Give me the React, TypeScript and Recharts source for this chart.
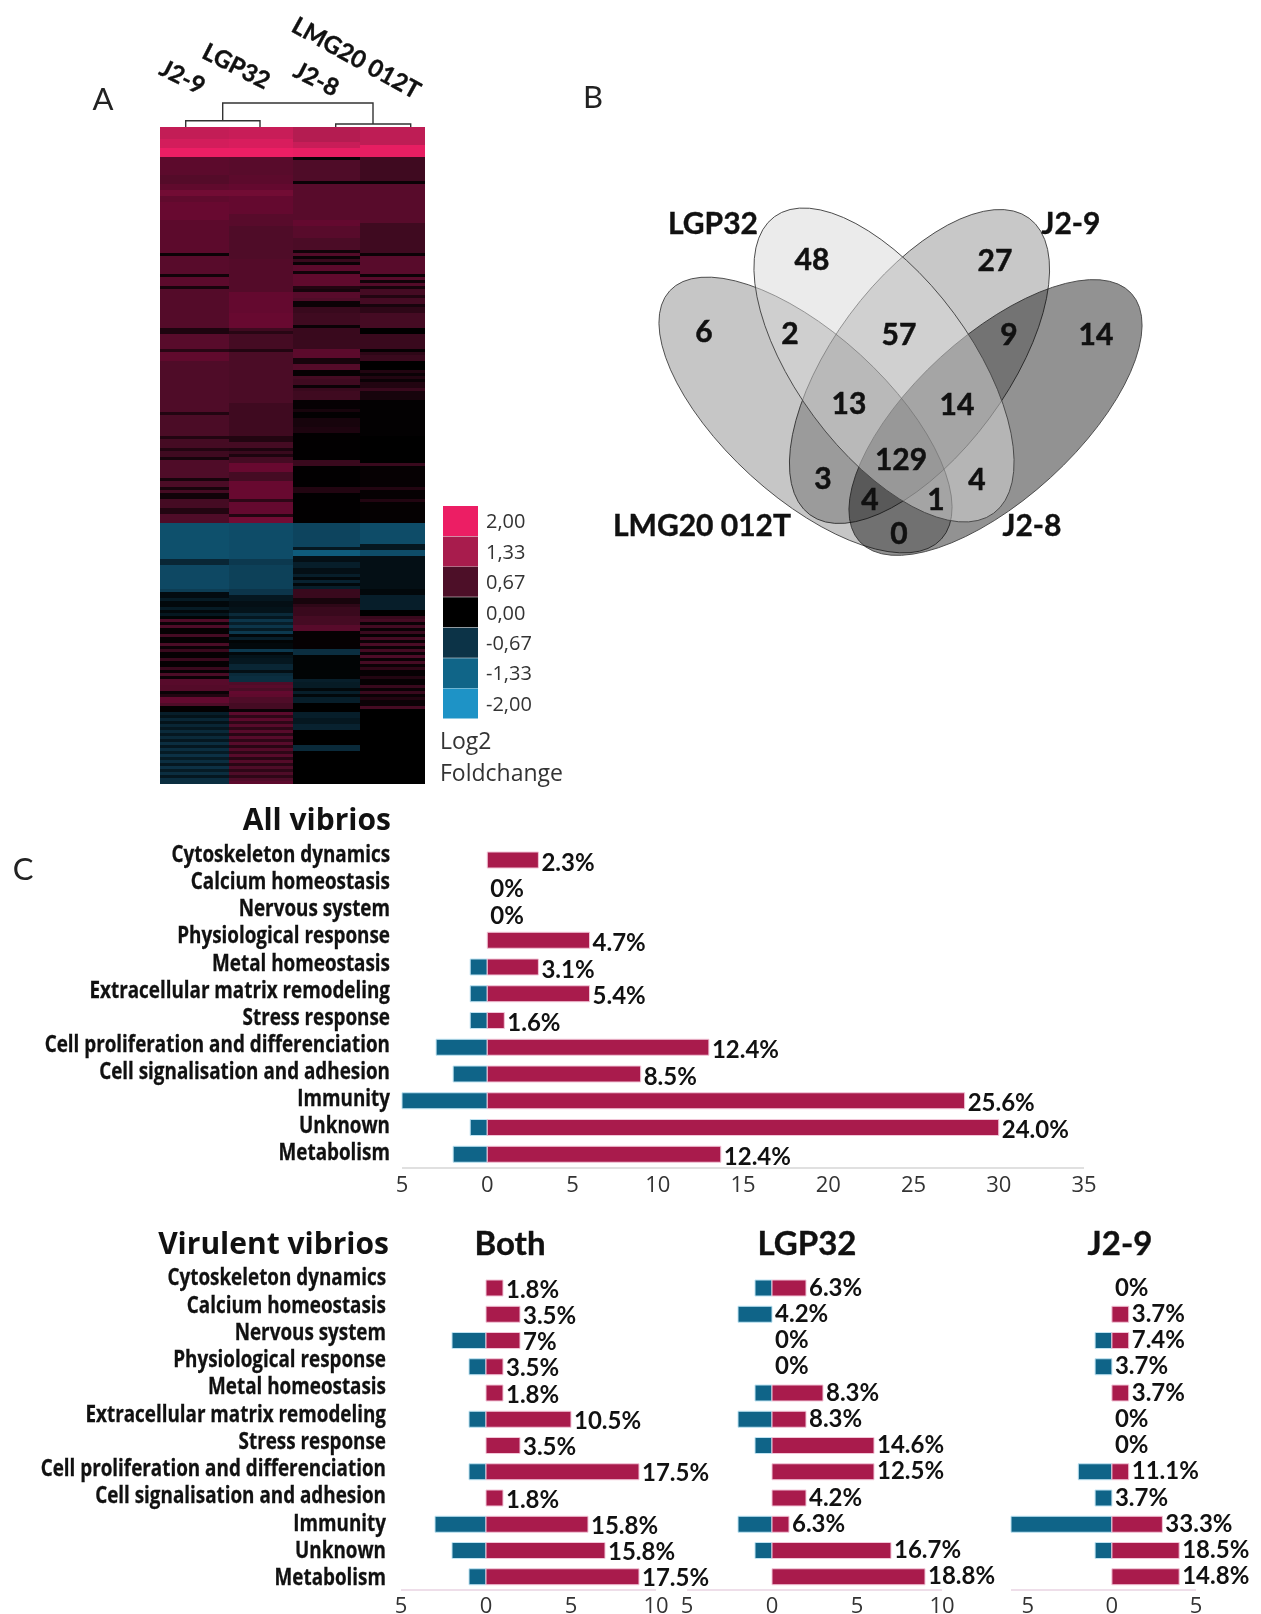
import {
  BarChart, Bar, Cell, XAxis, YAxis, LabelList, ScatterChart, Scatter,
} from 'recharts';

const RED = '#a91b4c';
const BLUE = '#0f6488';
const SANS = '"Open Sans", sans-serif';
const LATO = 'Lato, sans-serif';

// panel A: log2 fold change per gene row, written as [until row, value] runs
const J29_RUNS = [[4,1.6],[7,1.75],[10,2],[16,.85],[19,.75],[21,.9],[23,1.05],[25,.9],[31,1],[42,.85],[43,.1],[49,.8],[50,.15],[53,.85],[54,.2],[67,.75],[69,.25],[74,.8],[75,.35],[78,.9],[95,.7],[96,.3],[103,.65],[104,.3],[107,.6],[108,.3],[110,.55],[111,.2],[117,.7],[118,.2],[120,.65],[121,.2],[122,.6],[124,.15],[127,.6],[129,.3],[132,.7],[144,-1.05],[146,-.5],[154,-.95],[155,-.8],[157,-.15],[158,-.35],[160,-.1],[161,-.35],[162,-.1],[163,-.3],[164,-.05],[165,.7],[166,.1],[167,.7],[169,.05],[170,.6],[172,.05],[173,.65],[174,.1],[175,.5],[177,.05],[178,.5],[180,.05],[181,.5],[182,.05],[183,.65],[184,.1],[186,.8],[188,.75],[189,.1],[190,.3],[192,.95],[193,.7],[195,.03],[196,-.4],[197,-.25],[198,-.5],[199,-.25],[200,-.5],[201,-.3],[202,-.55],[203,-.3],[204,-.55],[205,-.3],[206,-.6],[207,-.3],[208,-.6],[209,-.35],[210,-.65],[211,-.35],[212,-.6],[213,-.3],[214,-.65],[215,-.35],[216,-.6],[217,-.3],[219,-.6]];
const LGP32_RUNS = [[4,1.65],[7,1.8],[10,2],[16,.8],[19,.85],[21,.95],[23,1.05],[29,.95],[33,.8],[44,.7],[55,.75],[62,.95],[67,1],[68,.55],[69,.35],[74,.6],[75,.3],[92,.65],[103,.55],[105,.3],[107,.6],[108,.25],[109,.5],[110,.25],[112,.6],[115,1],[118,.6],[124,1],[125,.4],[129,.95],[130,.3],[132,1.05],[144,-1],[146,-.75],[154,-.85],[156,-.7],[158,-.3],[160,-.2],[162,-.25],[163,-.55],[164,-.3],[165,-.7],[166,-.4],[167,-.7],[168,-.35],[169,-.75],[170,-.1],[171,-.4],[172,-.05],[174,-.1],[175,-.75],[176,-.1],[177,-.25],[179,-.3],[181,-.5],[182,-.2],[183,-.55],[185,-.6],[186,.7],[187,.8],[188,.65],[189,.95],[190,.9],[192,.7],[194,.6],[195,.1],[196,.85],[197,.4],[198,.85],[199,.4],[200,.8],[201,.4],[202,.8],[203,.35],[204,.8],[205,.4],[206,.8],[207,.35],[208,.75],[209,.4],[210,.8],[211,.35],[212,.75],[213,.35],[214,.7],[215,.4],[216,.7],[217,.4],[218,.7],[219,.85]];
const J28_RUNS = [[5,1.45],[7,1.65],[10,1.95],[11,.1],[18,.7],[19,.1],[31,.8],[33,.95],[37,.8],[41,.65],[42,.15],[43,.75],[44,.1],[45,.5],[46,.1],[48,.85],[49,.15],[53,.9],[54,.3],[55,.2],[57,.8],[58,.7],[60,.1],[62,.5],[66,.55],[67,.1],[74,.5],[77,.85],[79,.2],[81,.75],[83,.05],[84,.6],[86,.55],[87,.1],[88,.5],[91,.55],[94,.05],[95,.2],[97,.03],[100,.2],[102,.25],[111,.02],[113,.5],[120,.02],[122,.3],[132,.02],[140,-.9],[141,-.3],[143,-1.2],[145,-.2],[147,-.4],[149,-.2],[150,-.4],[151,-.1],[152,-.45],[153,-.1],[154,-.4],[157,.5],[159,.2],[160,.4],[163,.5],[166,.6],[168,.8],[174,.05],[176,-.6],[184,-.05],[185,-.4],[187,-.35],[188,-.1],[189,-.4],[190,-.1],[192,-.4],[195,0],[197,-.4],[199,-.3],[201,-.45],[206,0],[208,-.55],[219,0]];
const LMG_RUNS = [[6,1.55],[10,1.95],[18,.55],[19,.1],[32,.8],[42,.55],[43,.1],[49,.8],[50,.1],[51,.8],[52,.15],[53,.75],[54,.2],[56,.6],[57,.3],[59,.6],[60,.2],[62,.4],[67,.6],[69,0],[74,.5],[75,.05],[76,.4],[78,.5],[81,0],[82,.3],[83,.1],[84,.3],[85,.1],[87,.3],[88,.5],[91,.2],[103,.03],[112,0],[113,.5],[120,.05],[121,.3],[124,.05],[125,.3],[132,.04],[139,-1],[141,-.3],[143,-1],[154,-.2],[156,-.1],[161,-.4],[163,0],[164,.5],[165,.6],[166,.1],[167,.6],[168,.1],[169,.5],[170,.05],[171,.6],[172,.1],[173,.65],[174,.1],[175,.6],[176,.1],[177,.7],[178,.1],[179,.6],[180,.1],[181,.4],[183,.05],[184,.3],[186,.05],[187,.5],[188,.1],[189,.5],[190,.1],[191,.3],[193,.1],[194,.6],[219,0]];
const HEAT_COLUMNS = ['J2-9', 'LGP32', 'J2-8', 'LMG20 012T'];
const HEAT_COLUMN_WIDTHS = [69, 64, 67, 65];

// colour legend
const LEGEND_LABELS = ['2,00', '1,33', '0,67', '0,00', '-0,67', '-1,33', '-2,00'];
const LEGEND_COLORS = ['#ec1e64', '#a81c4d', '#4d0f28', '#000000', '#0c3347', '#106588', '#1e93c6'];

// heat ramp: legend colours plus one extra stop, the body reds are deeper than the legend blend
const RAMP_VALUES = [-2, -1.33, -0.67, 0, 0.67, 1, 1.33, 2];
const RAMP_COLORS = ['#1e93c6', '#106588', '#0c3347', '#000000', '#4d0c27', '#680930', '#a81c4d', '#ec1e64'];

// panel B
const VENN_SETS = ['LMG20 012T', 'J2-9', 'J2-8', 'LGP32'];
const VENN_COUNTS = [48, 27, 6, 2, 57, 9, 14, 13, 14, 129, 3, 4, 1, 4, 0];

// panel C
const CATEGORIES = [
  'Cytoskeleton dynamics', 'Calcium homeostasis', 'Nervous system', 'Physiological response',
  'Metal homeostasis', 'Extracellular matrix remodeling', 'Stress response',
  'Cell proliferation and differenciation', 'Cell signalisation and adhesion',
  'Immunity', 'Unknown', 'Metabolism',
];
const ALL_UP = [3, 0, 0, 6, 3, 6, 1, 13, 9, 28, 30, 13.7];
const ALL_DOWN = [0, 0, 0, 0, 1, 1, 1, 3, 2, 5, 1, 2];
const ALL_LABELS = ['2.3%', '0%', '0%', '4.7%', '3.1%', '5.4%', '1.6%', '12.4%', '8.5%', '25.6%', '24.0%', '12.4%'];
const BOTH_UP = [1, 2, 2, 1, 1, 5, 2, 9, 1, 6, 7, 9];
const BOTH_DOWN = [0, 0, 2, 1, 0, 1, 0, 1, 0, 3, 2, 1];
const BOTH_LABELS = ['1.8%', '3.5%', '7%', '3.5%', '1.8%', '10.5%', '3.5%', '17.5%', '1.8%', '15.8%', '15.8%', '17.5%'];
const LGP_UP = [2, 0, 0, 0, 3, 2, 6, 6, 2, 1, 7, 9];
const LGP_DOWN = [1, 2, 0, 0, 1, 2, 1, 0, 0, 2, 1, 0];
const LGP_LABELS = ['6.3%', '4.2%', '0%', '0%', '8.3%', '8.3%', '14.6%', '12.5%', '4.2%', '6.3%', '16.7%', '18.8%'];
const J29_UP = [0, 1, 1, 0, 1, 0, 0, 1, 0, 3, 4, 4];
const J29_DOWN = [0, 0, 1, 1, 0, 0, 0, 2, 1, 6, 1, 0];
const J29_LABELS = ['0%', '3.7%', '7.4%', '3.7%', '3.7%', '0%', '0%', '11.1%', '3.7%', '33.3%', '18.5%', '14.8%'];

const expandRuns = (runs: number[][]) => {
  const out: number[] = [];
  runs.forEach(([until, v]) => { while (out.length < until) out.push(v); });
  return out;
};

const heatRows = (() => {
  const cols = [J29_RUNS, LGP32_RUNS, J28_RUNS, LMG_RUNS].map(expandRuns);
  return cols[0].map((_, i) => ({ row: i, values: cols.map((c) => c[i]) }));
})();

function heatColor(v: number) {
  const c = Math.max(-2, Math.min(2, v));
  let i = 0;
  while (i < RAMP_VALUES.length - 2 && c > RAMP_VALUES[i + 1]) i++;
  const t = (c - RAMP_VALUES[i]) / (RAMP_VALUES[i + 1] - RAMP_VALUES[i]);
  const ch = (hex: string, p: number) => parseInt(hex.slice(p, p + 2), 16);
  const mix = (p: number) => Math.round(ch(RAMP_COLORS[i], p) + (ch(RAMP_COLORS[i + 1], p) - ch(RAMP_COLORS[i], p)) * t);
  return `rgb(${mix(1)},${mix(3)},${mix(5)})`;
}

function Heatmap() {
  return (
    <BarChart
      width={265} height={657} data={heatRows} layout="vertical"
      margin={{ top: 0, right: 0, bottom: 0, left: 0 }}
      barCategoryGap={0} barGap={0}
    >
      <XAxis type="number" domain={[0, 265]} hide />
      <YAxis type="category" dataKey="row" hide />
      {HEAT_COLUMNS.map((name, c) => (
        <Bar key={name} name={name} dataKey={() => HEAT_COLUMN_WIDTHS[c]} stackId="heat" isAnimationActive={false}>
          {heatRows.map((r) => <Cell key={r.row} fill={heatColor(r.values[c])} stroke="none" shapeRendering="crispEdges" />)}
        </Bar>
      ))}
    </BarChart>
  );
}

function LegendBar() {
  const rows = LEGEND_LABELS.map((label) => ({ label, w: 1 }));
  return (
    <BarChart
      width={110} height={213} data={rows} layout="vertical"
      margin={{ top: 0, right: 0, bottom: 0, left: 0 }} barCategoryGap={0}
    >
      <XAxis type="number" domain={[0, 1]} hide />
      <YAxis
        type="category" dataKey="label" orientation="right" width={75} interval={0}
        axisLine={false} tickLine={false} tickSize={0} tickMargin={8}
        tick={{ fontFamily: SANS, fontSize: 20, fill: '#333', textAnchor: 'start' }}
      />
      <Bar dataKey="w" isAnimationActive={false}>
        {rows.map((r, i) => <Cell key={r.label} fill={LEGEND_COLORS[i]} />)}
      </Bar>
    </BarChart>
  );
}

const vennEllipses = [
  { x: 805.5, y: 415, fill: '#c6c6c6', blend: 'multiply', opacity: 1, a: 184, b: 81.5, angle: 42.4 },
  { x: 919.5, y: 366.5, fill: '#c8c8c8', blend: 'multiply', opacity: 1, a: 184.4, b: 87, angle: -53.5 },
  { x: 995.5, y: 417.5, fill: '#929292', blend: 'multiply', opacity: 1, a: 184, b: 81.5, angle: -42.4 },
  { x: 884, y: 365, fill: '#d8d8d8', blend: 'normal', opacity: 0.5, a: 184.4, b: 87, angle: 53.5 },
].map((e, i) => ({ ...e, name: VENN_SETS[i] }));

const vennCountX = [812, 995, 704, 790, 899, 1009, 1096, 849, 957, 901, 823, 870, 936, 977, 899];
const vennCountY = [258, 259, 330, 332, 333, 333, 333, 402, 403, 458, 477, 498, 498, 478, 532];
const vennCounts = VENN_COUNTS.map((value, i) => ({ value, x: vennCountX[i], y: vennCountY[i] }));

function Venn() {
  return (
    <ScatterChart width={560} height={380} margin={{ top: 0, right: 0, bottom: 0, left: 0 }}>
      <XAxis type="number" dataKey="x" domain={[600, 1160]} hide />
      <YAxis type="number" dataKey="y" domain={[190, 570]} reversed hide />
      <Scatter
        data={vennEllipses} isAnimationActive={false}
        shape={(p: any) => (
          <g style={{ mixBlendMode: p.payload.blend }}>
            <ellipse
              cx={p.cx} cy={p.cy} rx={p.payload.a} ry={p.payload.b}
              transform={`rotate(${p.payload.angle} ${p.cx} ${p.cy})`}
              fill={p.payload.fill} fillOpacity={p.payload.opacity} stroke="#4a4a4a" strokeWidth={0.9}
            />
          </g>
        )}
      />
      <Scatter
        data={vennCounts} isAnimationActive={false}
        shape={(p: any) => (
          <text x={p.cx} y={p.cy} textAnchor="middle" dominantBaseline="central"
            fontFamily={LATO} fontWeight={700} fontSize={30} fill="#111" stroke="#111" strokeWidth={0.5}>
            {p.payload.value}
          </text>
        )}
      />
    </ScatterChart>
  );
}

function CategoryTick({ y, index, payload, right, shiftTop, shiftBottom }: any) {
  const dy = shiftTop + ((shiftBottom - shiftTop) * index) / 11;
  return (
    <text
      transform={`translate(${right},${y + dy}) scale(0.82,1)`}
      textAnchor="end" dominantBaseline="central"
      fontFamily={SANS} fontWeight={700} fontSize={23} fill="#111" stroke="#111" strokeWidth={0.3}
    >
      {payload.value}
    </text>
  );
}

function PctLabel({ x, y, width, height, value, dy }: any) {
  return (
    <text
      x={x + width + 3} y={y + height / 2 + dy} dominantBaseline="central"
      fontFamily={LATO} fontWeight={700} fontSize={24} fill="#111"
    >
      {value}
    </text>
  );
}

type PanelProps = {
  up: number[]; down: number[]; labels: string[];
  left: number; top: number; width: number; plotH: number; axisH: number;
  plotLeft: number; plotW: number; domain: number[]; ticks: number[];
  tickMargin: number; labelDy: number; axisColor: string;
  categoryAxis?: { right: number; shiftTop: number; shiftBottom: number };
};

const TOP_PAD = 20; // room above the first row for the raised category labels
const ZERO_BAR = 0.001; // empty rows still need a bar for their "0%" label

function Panel(props: PanelProps) {
  const { up, down, labels, left, top, width, plotH, axisH, plotLeft, plotW, domain, ticks, tickMargin, labelDy, axisColor, categoryAxis } = props;
  const rows = CATEGORIES.map((name, i) => ({ name, up: up[i] || ZERO_BAR, down: -down[i], label: labels[i] }));
  return (
    <div style={{ position: 'absolute', left, top: top - TOP_PAD }}>
      <BarChart
        width={width} height={plotH + axisH + TOP_PAD} data={rows} layout="vertical" stackOffset="sign"
        margin={{ top: TOP_PAD, bottom: 0, left: categoryAxis ? 0 : plotLeft, right: width - plotLeft - plotW }}
      >
        <XAxis
          type="number" domain={domain} ticks={ticks} height={axisH} interval={0}
          tickFormatter={(v: number) => String(Math.abs(v))}
          axisLine={{ stroke: axisColor, strokeWidth: 1.5 }} tickLine={false} tickSize={0} tickMargin={tickMargin}
          tick={{ fontFamily: SANS, fontSize: 22, fill: '#333' }}
        />
        {categoryAxis ? (
          <YAxis
            type="category" dataKey="name" width={plotLeft} interval={0}
            axisLine={false} tickLine={false}
            tick={(p: any) => <CategoryTick {...p} {...categoryAxis} />}
          />
        ) : (
          <YAxis type="category" dataKey="name" hide />
        )}
        <Bar dataKey="down" stackId="s" fill={BLUE} barSize={16} isAnimationActive={false}>
          {rows.map((r) => <Cell key={r.name} fill={BLUE} stroke={r.down ? '#bfe3f2' : 'none'} strokeWidth={1} />)}
        </Bar>
        <Bar dataKey="up" stackId="s" fill={RED} barSize={16} isAnimationActive={false}>
          {rows.map((r) => (
            <Cell key={r.name} fill={r.up === ZERO_BAR ? 'none' : RED} stroke={r.up === ZERO_BAR ? 'none' : '#f2c6d8'} strokeWidth={1} />
          ))}
          <LabelList dataKey="label" content={(p: any) => <PctLabel {...p} dy={labelDy} />} />
        </Bar>
      </BarChart>
    </div>
  );
}

const headStyle = { fontFamily: LATO, fontWeight: 700, fill: '#111', stroke: '#111', strokeWidth: 0.4 };

function Overlay() {
  return (
    <svg width={1261} height={1614} style={{ position: 'absolute', left: 0, top: 0 }}>
      <g fontFamily={LATO} fontSize={31} fill="#222">
        <text x={103} y={98} textAnchor="middle" dominantBaseline="central">A</text>
        <text x={593} y={96} textAnchor="middle" dominantBaseline="central">B</text>
        <text x={23} y={868} textAnchor="middle" dominantBaseline="central">C</text>
      </g>
      <g {...headStyle} fontSize={24} textAnchor="middle" dominantBaseline="central">
        <text transform="translate(183,76) rotate(27)">J2-9</text>
        <text transform="translate(237,65) rotate(27)">LGP32</text>
        <text transform="translate(317,78) rotate(27)">J2-8</text>
        <text transform="translate(357,57) rotate(29)">LMG20 012T</text>
      </g>
      <g fill="none" stroke="#333" strokeWidth={1.4}>
        <polyline points="222.7,120.7 222.7,103 373,103 373,124" />
        <polyline points="185.7,127 185.7,120.7 260,120.7 260,127" />
        <polyline points="335.7,127 335.7,124 410.7,124 410.7,127" />
      </g>
      <g fontFamily={SANS} fontSize={23} fill="#333" dominantBaseline="central">
        <text x={440} y={740}>Log2</text>
        <text x={440} y={772}>Foldchange</text>
      </g>
      <g {...headStyle} fontSize={30} textAnchor="middle" dominantBaseline="central">
        <text x={713} y={222}>LGP32</text>
        <text x={1071} y={222}>J2-9</text>
        <text x={702} y={524}>LMG20 012T</text>
        <text x={1032} y={524}>J2-8</text>
      </g>
      <g fontFamily={SANS} fontWeight={700} fill="#111" fontSize={30} dominantBaseline="central" textAnchor="end">
        <text x={391} y={818}>All vibrios</text>
        <text x={389} y={1242}>Virulent vibrios</text>
      </g>
      <g {...headStyle} fontSize={33} dominantBaseline="central" textAnchor="middle">
        <text x={510} y={1242}>Both</text>
        <text x={807} y={1242}>LGP32</text>
        <text x={1120} y={1242}>J2-9</text>
      </g>
    </svg>
  );
}

export default function App() {
  return (
    <div style={{ position: 'absolute', left: 0, top: 0, width: 1261, height: 1614, background: '#fff', overflow: 'hidden' }}>
      <div style={{ position: 'absolute', left: 160, top: 127 }}><Heatmap /></div>
      <div style={{ position: 'absolute', left: 443, top: 506 }}><LegendBar /></div>
      <div style={{ position: 'absolute', left: 600, top: 190 }}><Venn /></div>
      <Panel
        up={ALL_UP} down={ALL_DOWN} labels={ALL_LABELS}
        left={0} top={847} width={1261} plotH={321} axisH={38}
        plotLeft={402} plotW={682} domain={[-5, 35]} ticks={[-5, 0, 5, 10, 15, 20, 25, 30, 35]}
        tickMargin={8} labelDy={1} axisColor="#d6d6d6"
        categoryAxis={{ right: 390, shiftTop: -7, shiftBottom: -3 }}
      />
      <Panel
        up={BOTH_UP} down={BOTH_DOWN} labels={BOTH_LABELS}
        left={0} top={1275} width={730} plotH={315} axisH={24}
        plotLeft={401} plotW={255} domain={[-5, 10]} ticks={[-5, 0, 5, 10]}
        tickMargin={7} labelDy={0} axisColor="#e8d3e2"
        categoryAxis={{ right: 386, shiftTop: -11.5, shiftBottom: -0.5 }}
      />
      <Panel
        up={LGP_UP} down={LGP_DOWN} labels={LGP_LABELS}
        left={680} top={1275} width={330} plotH={315} axisH={24}
        plotLeft={7} plotW={255} domain={[-5, 10]} ticks={[-5, 0, 5, 10]}
        tickMargin={7} labelDy={-2} axisColor="#e8d3e2"
      />
      <Panel
        up={J29_UP} down={J29_DOWN} labels={J29_LABELS}
        left={1005} top={1275} width={256} plotH={315} axisH={24}
        plotLeft={6} plotW={185} domain={[-6, 5]} ticks={[-5, 0, 5]}
        tickMargin={7} labelDy={-2} axisColor="#e8d3e2"
      />
      <Overlay />
    </div>
  );
}
